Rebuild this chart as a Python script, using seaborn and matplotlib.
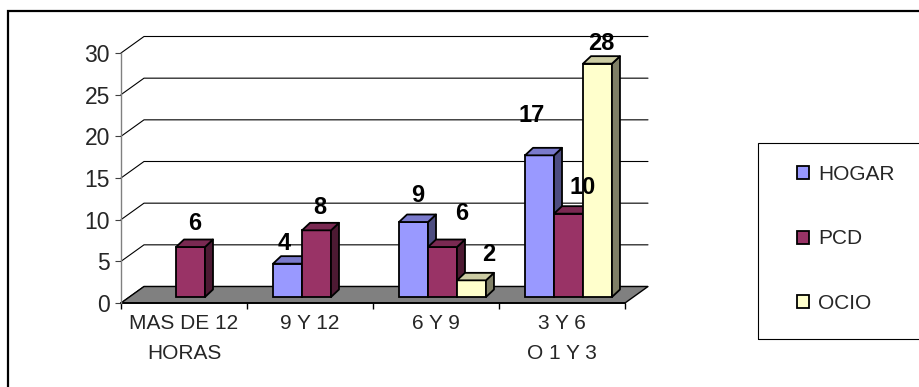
import numpy as np
import pandas as pd
import matplotlib
matplotlib.use("Agg")
import matplotlib.pyplot as plt
import seaborn as sns
from matplotlib.patches import Polygon, Rectangle
from matplotlib.transforms import ScaledTranslation

# ---- data -------------------------------------------------------------
categories = ["MAS DE 12\nHORAS", "9 Y 12", "6 Y 9", "3 Y 6\nO 1 Y 3"]
series = ["HOGAR", "PCD", "OCIO"]
hogar = [np.nan, 4, 9, 17]
pcd = [6, 8, 6, 10]
ocio = [np.nan, np.nan, 2, 28]
y_ticks = [0, 5, 10, 15, 20, 25, 30]

front_colors = ["#9999FF", "#993366", "#FFFFCC"]

rows = []
for name, vals in zip(series, [hogar, pcd, ocio]):
    for cat, v in zip(categories, vals):
        if not np.isnan(v):
            rows.append({"cat": cat, "serie": name, "val": v})
df = pd.DataFrame(rows)

# ---- styling ----------------------------------------------------------
sns.set_style("white")
plt.rcParams["font.family"] = ["Liberation Sans", "DejaVu Sans"]

DPI = 100
fig = plt.figure(figsize=(9.19, 3.87), dpi=DPI)
W, H = 919, 387

# plot area (front plane) in pixels
x0_px, x1_px, y0_px, y30_px = 121, 625, 303, 53
ax = fig.add_axes([x0_px / W, (H - y0_px) / H, (x1_px - x0_px) / W, (y0_px - y30_px) / H])
ax.patch.set_visible(False)

sns.barplot(data=df, x="cat", y="val", hue="serie", order=categories,
            hue_order=series, palette=front_colors, saturation=1,
            width=0.69, edgecolor="black", linewidth=1.3, errorbar=None,
            ax=ax, legend=True)
ax.set_xlim(-0.5, 3.5)
ax.set_ylim(0, 30)
ax.set_xlabel("")
ax.set_ylabel("")

px_x = (x1_px - x0_px) / 4.0          # pixels per category unit
px_y = (y0_px - y30_px) / 30.0        # pixels per value unit

# depth of the chart box and of each column, in data units
Dx, Dy = 23 / px_x, 16.5 / px_y
dx, dy = 8 / px_x, 7.5 / px_y

# columns stand part-way into the floor
bar_tr = ax.transData + ScaledTranslation(6.5 / DPI, 6 / DPI, fig.dpi_scale_trans)

# floor
floor = Polygon([(-0.5, 0), (3.5, 0), (3.5 + Dx, Dy), (-0.5 + Dx, Dy)],
                closed=True, facecolor="#808080", edgecolor="black", lw=1.0,
                zorder=1, clip_on=False)
ax.add_patch(floor)

# side-wall and back-wall gridlines
for v in y_ticks:
    ax.plot([-0.5, -0.5 + Dx, 3.5 + Dx], [v, v + Dy, v + Dy], color="black",
            lw=0.8, clip_on=False, zorder=0.8)


def shade(hex_color, k):
    r, g, b = matplotlib.colors.to_rgb(hex_color)
    return (r * k, g * k, b * k)


# label nudges in pixels (right, up) from each column's front-top centre
label_nudge = {
    ("PCD", 0): (4.5, 25),
    ("HOGAR", 1): (-3, 22), ("PCD", 1): (3.5, 25),
    ("HOGAR", 2): (4, 29), ("PCD", 2): (19, 35), ("OCIO", 2): (17, 28),
    ("HOGAR", 3): (-8, 42), ("PCD", 3): (14.5, 28), ("OCIO", 3): (4, 22),
}

for i, cont in enumerate(ax.containers):
    name = series[i]
    col = front_colors[i]
    for bar in cont:
        h = bar.get_height()
        if h is None or np.isnan(h):
            continue
        bx, bw = bar.get_x(), bar.get_width()
        cat_idx = int(round(bx + bw / 2 - (i - 1) * bw))
        z = 3 + 0.3 * i
        bar.set_transform(bar_tr)
        bar.set_clip_on(False)
        bar.set_zorder(z)
        side = Polygon([(bx + bw, 0), (bx + bw + dx, dy), (bx + bw + dx, h + dy), (bx + bw, h)],
                       closed=True, facecolor=shade(col, 0.5), edgecolor="black",
                       lw=1.3, transform=bar_tr, clip_on=False, zorder=z + 0.1,
                       joinstyle="round")
        top = Polygon([(bx, h), (bx + bw, h), (bx + bw + dx, h + dy), (bx + dx, h + dy)],
                      closed=True, facecolor=shade(col, 0.8), edgecolor="black",
                      lw=1.3, transform=bar_tr, clip_on=False, zorder=z + 0.2,
                      joinstyle="round")
        ax.add_patch(side)
        ax.add_patch(top)
        nx, ny = label_nudge.get((name, cat_idx), (4, 26))
        ax.annotate(f"{h:g}", xy=(bx + bw / 2, h), xycoords=bar_tr,
                    xytext=(nx * 0.72, (ny - 8.5) * 0.72), textcoords="offset points",
                    ha="center", va="baseline", fontsize=17, fontweight="bold",
                    color="black", zorder=10, annotation_clip=False)

# axes
for s in ["top", "right"]:
    ax.spines[s].set_visible(False)
ax.spines["left"].set_color("#808080")
ax.spines["left"].set_linewidth(1.0)
ax.spines["bottom"].set_color("black")
ax.spines["bottom"].set_linewidth(1.3)
ax.spines["bottom"].set_zorder(2)

ax.set_yticks(y_ticks)
ax.set_yticklabels([str(t) for t in y_ticks], fontsize=16.5)
ax.tick_params(axis="y", direction="out", length=4.3, width=0.8,
               color="#404040", pad=3.6, left=True)

ax.set_xticks([-0.5, 0.5, 1.5, 2.5, 3.5])
ax.set_xticklabels([])
ax.set_xticks(range(len(categories)), minor=True)
ax.set_xticklabels(categories, minor=True, fontsize=15, linespacing=1.7)
ax.tick_params(axis="x", which="major", direction="out", length=4.3,
               width=1.0, color="black", bottom=True)
ax.tick_params(axis="x", which="minor", length=0, pad=8)

# legend
handles, labels = ax.get_legend_handles_labels()
ax.get_legend().remove()
for hdl in handles:
    hdl.set_edgecolor("black")
    hdl.set_linewidth(1.3)
fig.legend(handles, labels, loc="center left",
           bbox_to_anchor=(797 / W, 1 - 239 / H), frameon=False, fontsize=15,
           handlelength=0.58, handleheight=0.58, handletextpad=0.43,
           labelspacing=2.17, borderpad=0, borderaxespad=0)
fig.add_artist(Rectangle((758 / W, 1 - 339 / H), 0.5, (339 - 143) / H,
                         transform=fig.transFigure, fill=False,
                         edgecolor="black", lw=0.8))

# chart-area frame
fig.add_artist(Rectangle((8 / W, -0.5), 1.0, 0.5 + 1 - 11 / H,
                         transform=fig.transFigure, fill=False,
                         edgecolor="black", lw=1.6))

fig.savefig("out.png", dpi=DPI)
